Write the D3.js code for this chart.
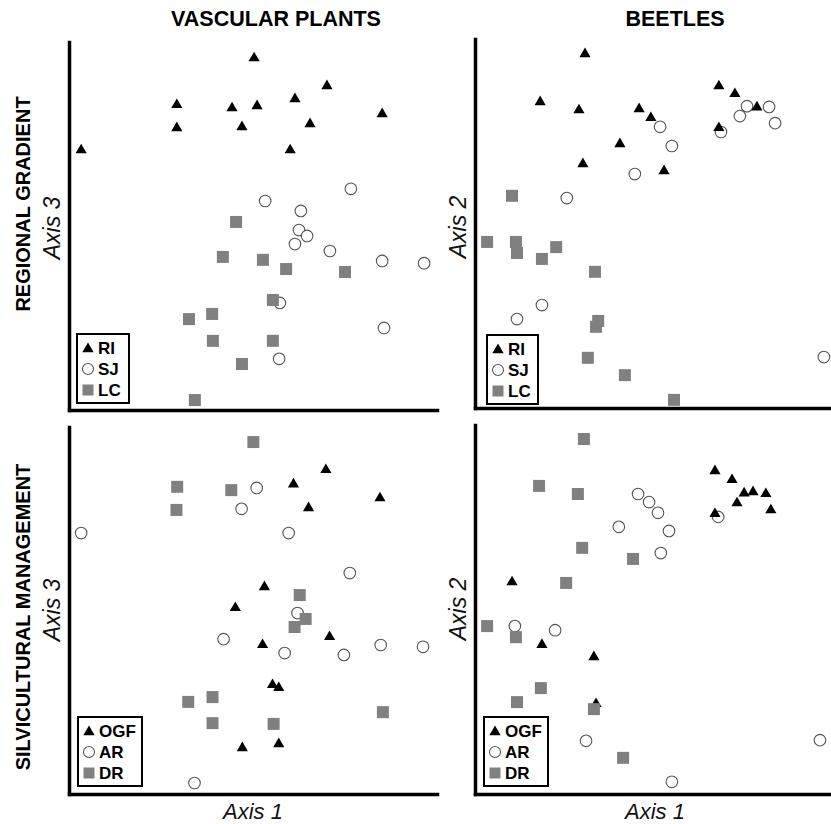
<!DOCTYPE html>
<html>
<head>
<meta charset="utf-8">
<script src="https://cdn.jsdelivr.net/npm/d3@7"></script>
<style>
  body { margin: 0; background: #fff; }
  svg { display: block; font-family: "Liberation Sans", Arial, sans-serif; }
</style>
</head>
<body>
<svg id="chart" width="831" height="824"></svg>
<script>
// ordination scores (arbitrary 0-100 units per panel)
// vascular plants, regional gradient (Axis 1 x Axis 3)
const plantsRI = [[50.3,95.9],[29.3,83.2],[29.3,76.9],[44.3,82.3],[51.1,82.9],[47.0,77.2],[61.4,84.8],[70.1,88.3],[65.5,78.0],[60.1,70.9],[85.1,80.7],[3.3,70.9]];
const plantsSJ = [[76.6,60.1],[53.3,56.8],[63.0,54.1],[62.5,48.9],[64.7,47.3],[61.4,45.1],[70.9,43.2],[85.1,40.5],[96.5,39.9],[57.3,29.1],[85.6,22.3],[57.1,13.9]];
const plantsLC = [[45.4,51.1],[41.8,41.6],[52.7,40.8],[59.0,38.3],[75.0,37.5],[55.4,29.9],[32.6,24.7],[38.9,26.1],[39.1,18.8],[55.4,18.8],[47.0,12.5],[34.2,2.7]];

// beetles, regional gradient (Axis 1 x Axis 2)
const beetlesRI = [[30.9,96.2],[18.3,83.2],[29.2,81.0],[46.1,81.3],[49.4,78.9],[68.5,87.5],[73.0,85.4],[79.2,81.8],[68.5,76.2],[40.7,71.8],[30.3,66.4],[53.1,64.5]];
const beetlesSJ = [[52.0,76.2],[55.3,71.0],[44.9,63.4],[25.8,56.9],[69.1,74.8],[74.4,79.1],[76.4,81.8],[82.6,81.6],[84.3,77.2],[18.8,27.9],[11.8,24.1],[98.0,13.8]];
const beetlesLC = [[10.4,57.5],[3.4,45.0],[11.5,45.0],[11.8,42.0],[22.8,43.6],[18.8,40.4],[33.7,36.9],[34.6,23.6],[34.0,22.0],[31.7,13.6],[42.1,8.9],[55.9,2.2]];

// vascular plants, silvicultural management
const plantsOGF = [[69.8,88.6],[61.0,84.7],[65.1,78.2],[84.5,80.9],[53.1,56.7],[45.2,51.0],[70.8,43.1],[52.6,40.9],[55.3,30.0],[57.0,29.2],[47.1,12.8],[57.0,13.9]];
const plantsAR = [[51.0,83.4],[46.9,77.7],[3.3,71.1],[59.7,71.1],[76.3,60.2],[62.1,49.3],[42.0,42.2],[58.6,38.4],[74.7,37.9],[84.7,40.6],[96.2,40.1],[34.1,3.0]];
const plantsDR = [[50.1,95.9],[29.4,83.7],[29.2,77.4],[44.1,82.8],[62.7,54.2],[64.3,47.7],[61.3,45.5],[32.4,25.1],[39.0,26.4],[39.0,19.3],[55.6,19.1],[85.3,22.3]];

// beetles, silvicultural management
const beetlesOGF = [[67.4,87.8],[72.2,85.4],[75.6,81.8],[78.1,82.1],[81.7,81.6],[73.6,79.1],[83.1,77.2],[67.4,76.2],[10.4,57.7],[18.8,40.7],[33.4,37.4],[34.0,24.7]];
const beetlesAR = [[45.8,81.3],[48.9,79.1],[51.4,76.2],[40.4,72.4],[54.5,71.3],[52.2,65.3],[68.3,75.1],[11.2,45.5],[22.5,44.4],[31.2,14.4],[55.3,3.3],[96.9,14.6]];
const beetlesDR = [[30.6,96.2],[18.0,83.5],[28.9,81.3],[30.1,66.7],[44.4,63.7],[25.6,57.2],[3.4,45.5],[11.5,42.5],[18.5,28.7],[11.8,24.9],[33.4,23.0],[41.6,9.8]];

const columnTitles = ["VASCULAR PLANTS", "BEETLES"];
const rowTitles = ["REGIONAL GRADIENT", "SILVICULTURAL MANAGEMENT"];
const regionGroups = ["RI", "SJ", "LC"];
const silviGroups = ["OGF", "AR", "DR"];

const svg = d3.select("#chart");
const font = "'Liberation Sans', Arial, sans-serif";

// panel layout
const panels = [
  { box: [69, 437, 42, 410], groups: regionGroups, series: [plantsRI, plantsSJ, plantsLC], yLabel: "Axis 3", yMid: 228, xLabel: null, legend: [77, 334, 52] },
  { box: [475, 831, 39, 408], groups: regionGroups, series: [beetlesRI, beetlesSJ, beetlesLC], yLabel: "Axis 2", yMid: 227, xLabel: null, legend: [487, 335, 51] },
  { box: [69, 437, 427, 794], groups: silviGroups, series: [plantsOGF, plantsAR, plantsDR], yLabel: "Axis 3", yMid: 610, xLabel: "Axis 1", legend: [78, 717, 64] },
  { box: [475, 831, 425, 794], groups: silviGroups, series: [beetlesOGF, beetlesAR, beetlesDR], yLabel: "Axis 2", yMid: 609, xLabel: "Axis 1", legend: [484, 717, 64] }
];

const tri = d3.symbol().type(d3.symbolTriangle).size(54);
const sq = d3.symbol().type(d3.symbolSquare).size(144);
const triSmall = d3.symbol().type(d3.symbolTriangle).size(56);
const sqSmall = d3.symbol().type(d3.symbolSquare).size(121);

function drawMarker(g, kind, x, y, small) {
  if (kind === 0) {
    g.append("path").attr("d", (small ? triSmall : tri)())
      .attr("transform", `translate(${x},${y + 1})`).attr("fill", "#000");
  } else if (kind === 1) {
    g.append("circle").attr("cx", x).attr("cy", y).attr("r", small ? 5.5 : 5.8)
      .attr("fill", "#fff").attr("stroke", "#555").attr("stroke-width", 1.1);
  } else {
    g.append("path").attr("d", (small ? sqSmall : sq)())
      .attr("transform", `translate(${x},${y})`).attr("fill", "#808080");
  }
}

panels.forEach(p => {
  const [x0, x1, yTop, yBot] = p.box;
  const x = d3.scaleLinear().domain([0, 100]).range([x0, x1]);
  const y = d3.scaleLinear().domain([0, 100]).range([yBot, yTop]);
  const g = svg.append("g");

  // axes: plain lines, no ticks
  g.append("g").attr("transform", `translate(${x0},0)`)
    .call(d3.axisLeft(y).ticks(0).tickSizeOuter(0))
    .select(".domain").attr("stroke", "#000").attr("stroke-width", 3.5).attr("stroke-linecap", "square");
  g.append("g").attr("transform", `translate(0,${yBot})`)
    .call(d3.axisBottom(x).ticks(0).tickSizeOuter(0))
    .select(".domain").attr("stroke", "#000").attr("stroke-width", 3.5).attr("stroke-linecap", "square");

  // points: circles first, then triangles, then squares on top
  [1, 0, 2].forEach(k => {
    const layer = g.append("g");
    p.series[k].forEach(d => drawMarker(layer, k, x(d[0]), y(d[1]), false));
  });

  // legend
  const [lx, ly, lw] = p.legend;
  const leg = g.append("g");
  leg.append("rect").attr("x", lx).attr("y", ly).attr("width", lw).attr("height", 69)
    .attr("fill", "#fff").attr("stroke", "#000").attr("stroke-width", 2);
  p.groups.forEach((name, i) => {
    const cy = ly + 14 + i * 21;
    drawMarker(leg, i, lx + 11, cy, true);
    leg.append("text").attr("x", lx + 21).attr("y", cy)
      .attr("dominant-baseline", "central")
      .style("font-family", font).style("font-weight", "bold").style("font-size", "17px")
      .text(name);
  });

  // axis labels
  const yLx = x0 === 69 ? 52 : 458;
  g.append("text").attr("transform", `translate(${yLx},${p.yMid}) rotate(-90)`)
    .attr("text-anchor", "middle").attr("dominant-baseline", "central")
    .style("font-family", font).style("font-style", "italic").style("font-size", "23px").attr("fill", "#111")
    .text(p.yLabel);
  if (p.xLabel) {
    g.append("text").attr("x", x0 === 69 ? 253 : 655).attr("y", 819)
      .attr("text-anchor", "middle")
      .style("font-family", font).style("font-style", "italic").style("font-size", "22px").attr("fill", "#111")
      .text(p.xLabel);
  }
});

// column and row titles
[276, 675].forEach((cx, i) => {
  svg.append("text").attr("x", cx).attr("y", 19)
    .attr("text-anchor", "middle").attr("dominant-baseline", "central")
    .style("font-family", font).style("font-weight", "bold").style("font-size", "21.5px")
    .text(columnTitles[i]);
});
[204, 617].forEach((cy, i) => {
  svg.append("text").attr("transform", `translate(23,${cy}) rotate(-90)`)
    .attr("text-anchor", "middle").attr("dominant-baseline", "central")
    .style("font-family", font).style("font-weight", "bold").style("font-size", "20px")
    .text(rowTitles[i]);
});
</script>
</body>
</html>
